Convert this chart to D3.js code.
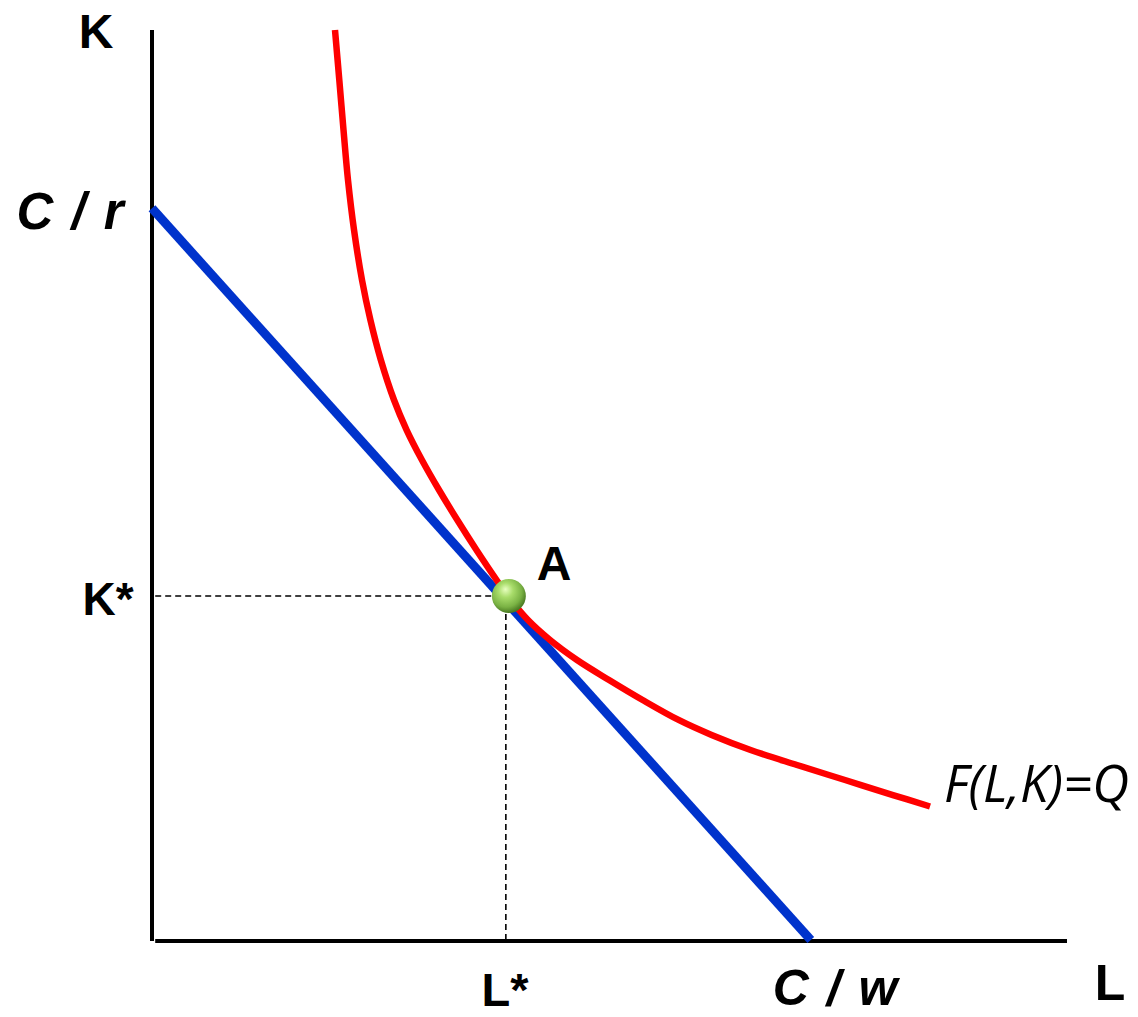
<!DOCTYPE html>
<html>
<head>
<meta charset="utf-8">
<script src="https://cdn.jsdelivr.net/npm/d3@7"></script>
<style>
html,body{margin:0;padding:0;background:#fff;}
svg{display:block;}
</style>
</head>
<body>
<svg id="chart" width="1138" height="1017"></svg>
<script>
// ---- data (economic units) ----
const isoquant = [
  [20.00,100.00],[20.47,94.51],[20.93,89.01],[21.42,83.52],[22.08,78.02],[22.95,72.53],
  [23.87,68.13],[25.01,63.74],[26.45,59.34],[27.83,56.04],[29.50,52.75],[31.37,49.45],
  [33.37,46.15],[35.46,42.86],[37.66,39.56],[39.23,37.36],[41.09,35.16],[43.50,32.97],
  [46.45,30.77],[49.95,28.57],[53.62,26.37],[57.55,24.18],[61.16,22.53],[65.42,20.88],
  [70.49,19.23],[75.74,17.58],[80.98,15.93],[85.03,14.67]
];
const costIntercepts = {Cr: 80.4, Cw: 72.0};
const optimum = {L: 39.0, K: 37.8};
const axisLabels = ["K", "L"];
const tickLabels = ["C / r", "K*", "L*", "C / w"];
const curveLabel = "F(L,K)=Q";
const pointLabel = "A";

// ---- scales ----
const x = d3.scaleLinear().domain([0,100]).range([152,1067]);
const y = d3.scaleLinear().domain([0,100]).range([940,30]);

const svg = d3.select("#chart");
const defs = svg.append("defs");
const grad = defs.append("radialGradient").attr("id","ball")
  .attr("cx","42%").attr("cy","38%").attr("r","62%").attr("fx","40%").attr("fy","30%");
grad.append("stop").attr("offset","0%").attr("stop-color","#e8ffc0");
grad.append("stop").attr("offset","35%").attr("stop-color","#a8dc6a");
grad.append("stop").attr("offset","75%").attr("stop-color","#7ab244");
grad.append("stop").attr("offset","100%").attr("stop-color","#4a7a22");

const boldFont = "'Liberation Sans', Arial, sans-serif";

// dashed guides
svg.append("line")
  .attr("x1", x(0.35)).attr("x2", x(optimum.L)-12)
  .attr("y1", y(optimum.K)).attr("y2", y(optimum.K))
  .attr("stroke","#000").attr("stroke-width",1.6).attr("stroke-dasharray","6,4");
svg.append("line")
  .attr("x1", x(optimum.L)-3).attr("x2", x(optimum.L)-3)
  .attr("y1", y(optimum.K)+8).attr("y2", y(0))
  .attr("stroke","#000").attr("stroke-width",1.6).attr("stroke-dasharray","6,4");

// axes
svg.append("line").attr("x1",x(0)).attr("x2",x(0)).attr("y1",y(100)).attr("y2",y(0)+1)
  .attr("stroke","#000").attr("stroke-width",4);
svg.append("line").attr("x1",x(0.35)).attr("x2",x(100)).attr("y1",y(0)+1).attr("y2",y(0)+1)
  .attr("stroke","#000").attr("stroke-width",4);

// budget (isocost) line
svg.append("line")
  .attr("x1", x(0)).attr("y1", y(costIntercepts.Cr))
  .attr("x2", x(costIntercepts.Cw)).attr("y2", y(0))
  .attr("stroke","#0033cc").attr("stroke-width",9);

// isoquant
const line = d3.line().x(d=>x(d[0])).y(d=>y(d[1])).curve(d3.curveCatmullRom.alpha(0.5));
svg.append("path").datum(isoquant).attr("d",line)
  .attr("fill","none").attr("stroke","#ff0000").attr("stroke-width",6.5);

// point A
svg.append("circle").attr("cx", x(optimum.L)).attr("cy", y(optimum.K)).attr("r",17)
  .attr("fill","url(#ball)");

// labels
function label(t, px, py, opts){
  opts = opts || {};
  svg.append("text").attr("x",px).attr("y",py)
    .attr("text-anchor", opts.anchor || "middle")
    .attr("font-family", opts.family || boldFont)
    .attr("font-weight", opts.weight || "bold")
    .attr("font-style", opts.style || "normal")
    .attr("font-size", opts.size || 48)
    .attr("word-spacing", opts.ws || 0)
    .attr("fill","#000").text(t);
}
label(axisLabels[0], 96, 48, {size:48});
label(axisLabels[1], 1110, 1000, {size:50});
label(tickLabels[0], 70, 229, {size:51, style:"italic", ws:4});
label(tickLabels[1], 108, 615, {size:46});
label(tickLabels[2], 505, 1006, {size:47});
label(tickLabels[3], 835, 1005, {size:50, style:"italic", ws:4});
label(pointLabel, 554, 580, {size:48});
label(curveLabel, 944, 802, {anchor:"start", family:"'Open Sans', sans-serif", weight:"normal", style:"italic", size:51});
</script>
</body>
</html>
